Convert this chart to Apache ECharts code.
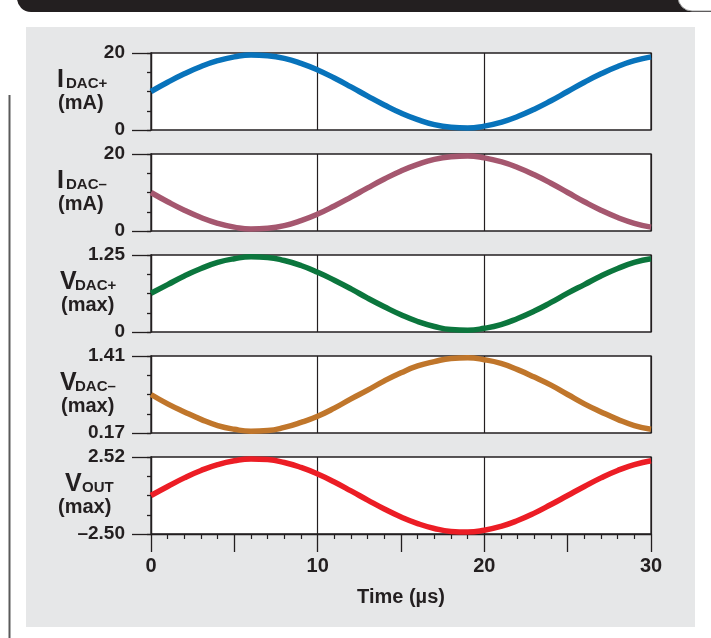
<!DOCTYPE html>
<html><head><meta charset="utf-8">
<script src="https://cdn.jsdelivr.net/npm/echarts@6/dist/echarts.min.js"></script>
<style>html,body{margin:0;padding:0;background:#fff}#c{width:711px;height:638px}</style>
</head><body><div id="c"></div>
<script>
// ---- data ----
const timeUs = [0,1,2,3,4,5,6,7,8,9,10,11,12,13,14,15,16,17,18,19,20,21,22,23,24,25,26,27,28,29,30];
const iDacPlus  = [10,12.4,14.6,16.5,18.0,19.0,19.5,19.3,18.6,17.3,15.6,13.5,11.2,8.8,6.5,4.4,2.7,1.4,0.7,0.5,1.0,2.0,3.5,5.4,7.6,10,12.4,14.6,16.5,18.0,19.0];
const iDacMinus = [10,7.6,5.4,3.5,2.0,1.0,0.5,0.7,1.4,2.7,4.4,6.5,8.8,11.2,13.5,15.6,17.3,18.6,19.3,19.5,19.0,18.0,16.5,14.6,12.4,10,7.6,5.4,3.5,2.0,1.0];
const vDacPlus  = [0.63,0.77,0.91,1.03,1.13,1.19,1.22,1.21,1.16,1.08,0.97,0.84,0.70,0.55,0.41,0.28,0.17,0.09,0.04,0.03,0.06,0.12,0.22,0.34,0.48,0.63,0.77,0.91,1.03,1.13,1.19];
const vDacMinus = [0.79,0.64,0.51,0.39,0.29,0.23,0.20,0.21,0.26,0.34,0.44,0.57,0.72,0.86,1.01,1.14,1.25,1.32,1.37,1.38,1.35,1.29,1.19,1.07,0.94,0.79,0.64,0.51,0.39,0.29,0.23];
const vOut      = [0.01,0.60,1.16,1.64,2.02,2.27,2.39,2.35,2.16,1.84,1.41,0.89,0.31,-0.29,-0.87,-1.39,-1.82,-2.14,-2.33,-2.37,-2.25,-2.00,-1.62,-1.14,-0.58,0.01,0.60,1.16,1.64,2.02,2.27];

const yMin  = [0, 0, 0, 0.17, -2.5];
const yMax  = [20, 20, 1.25, 1.41, 2.52];
const yStep = [5, 5, 0.3125, 0.31, 1.255];   // quarter ticks
const ySpan = [20, 20, 1.25, 1.24, 5.02];    // only min / max ticks
const yTickTop    = ['20', '20', '1.25', '1.41', '2.52'];
const yTickBottom = ['0', '0', '0', '0.17', '\u20132.50'];
const xMin = 0, xMax = 30;
const xLabelStep = 10, xMajorStep = 5;
const xAxisName = 'Time (\u00b5s)';
const panelMain = ['I', 'I', 'V', 'V', 'V'];
const panelSub  = ['DAC+', 'DAC\u2013', 'DAC+', 'DAC\u2013', 'OUT'];
const panelUnit = ['(mA)', '(mA)', '(max)', '(max)', '(max)'];
const seriesData = [iDacPlus, iDacMinus, vDacPlus, vDacMinus, vOut];
const colors = ['#0873bb', '#a5576f', '#0b763d', '#c0762b', '#ec1d25'];

// ---- layout ----
const FONT = '"Liberation Sans", Arial, Helvetica, sans-serif';
const INK = '#231f20';
const tops = [53, 154, 255, 356, 457];
const H = 77;
const mainX = [57, 57, 60, 60, 65];
const subX  = [66, 66, 75, 75, 82];
const unitX = [58, 58, 61, 61, 58];

const grids = [], xAxes = [], yAxes = [], series = [], graphics = [];

graphics.push({type:'rect', z:-100, shape:{x:26, y:27, width:669, height:600}, style:{fill:'#e6e7e8'}});
graphics.push({type:'rect', z:-90, shape:{x:17, y:-20, width:700, height:32, r:[0,0,0,14]}, style:{fill:INK}});
graphics.push({type:'rect', z:-80, shape:{x:678, y:-20, width:60, height:31, r:[0,0,0,14]}, style:{fill:'#fff', stroke:'#9a9a9a', lineWidth:1}});
graphics.push({type:'line', z:-80, shape:{x1:9.5, y1:95, x2:9.5, y2:640}, style:{stroke:'#5a5a5a', lineWidth:2}});

for (let i = 0; i < 5; i++) {
  const last = i === 4;
  grids.push({left:151, width:500, top:tops[i], height:H, show:true,
    backgroundColor:'#fff', borderColor:INK, borderWidth:1.3, containLabel:false});
  xAxes.push({type:'value', gridIndex:i, min:xMin, max:xMax, interval:xLabelStep, position:'bottom', offset:0,
    axisLine:{show:last, onZero:false, lineStyle:{color:INK, width:1.3}},
    axisTick:{show:false},
    axisLabel:{show:last, margin:22, color:INK, fontFamily:FONT, fontWeight:'bold', fontSize:20},
    splitLine:{show:true, lineStyle:{color:INK, width:1.2}},
    name: last ? xAxisName : '', nameLocation:'middle', nameGap:53,
    nameTextStyle:{color:INK, fontFamily:FONT, fontWeight:'bold', fontSize:20}});
  yAxes.push({type:'value', gridIndex:i, min:yMin[i], max:yMax[i], interval:yStep[i], position:'left', offset:0,
    axisLine:{show:true, onZero:false, lineStyle:{color:INK, width:1.3}},
    axisTick:{show:true, inside:false, length:4, lineStyle:{color:INK, width:1.3}},
    axisLabel:{show:false}, splitLine:{show:false}});
  series.push({type:'line', xAxisIndex:i, yAxisIndex:i, smooth:true, symbol:'none', clip:false,
    lineStyle:{color:colors[i], width:5.5}, itemStyle:{color:colors[i]},
    data: timeUs.map((t, j) => [t, seriesData[i][j]])});
  const t = tops[i];
  graphics.push({type:'text', z:100, x:mainX[i], y:t+27.5, style:{text:panelMain[i], fill:INK, font:'bold 25px '+FONT, align:'left', verticalAlign:'middle'}});
  graphics.push({type:'text', z:100, x:subX[i], y:t+30.5, style:{text:panelSub[i], fill:INK, font:'bold 15px '+FONT, align:'left', verticalAlign:'middle'}});
  graphics.push({type:'text', z:100, x:unitX[i], y:t+50, style:{text:panelUnit[i], fill:INK, font:'bold 20px '+FONT, align:'left', verticalAlign:'middle'}});
}
// label axes (min/max only, long ticks)
for (let i = 0; i < 5; i++) {
  const k = i;
  yAxes.push({type:'value', gridIndex:i, min:yMin[i], max:yMax[i], interval:ySpan[i], position:'left', offset:0,
    axisLine:{show:false, onZero:false},
    axisTick:{show:true, inside:false, length:19, lineStyle:{color:INK, width:1.3}},
    axisLabel:{show:true, margin:26, color:INK, fontFamily:FONT, fontWeight:'bold', fontSize:19,
      formatter: v => Math.abs(v - yMax[k]) < 1e-6 ? yTickTop[k] : (Math.abs(v - yMin[k]) < 1e-6 ? yTickBottom[k] : '')},
    splitLine:{show:false}});
}
// bottom ticks axis
xAxes.push({type:'value', gridIndex:4, min:xMin, max:xMax, interval:xMajorStep, position:'bottom', offset:0,
  axisLine:{show:false, onZero:false},
  axisTick:{show:true, inside:false, length:18, lineStyle:{color:INK, width:1.3}},
  minorTick:{show:true, splitNumber:5, length:5, lineStyle:{color:INK, width:1.2}},
  axisLabel:{show:false}, splitLine:{show:false}});

const chart = echarts.init(document.getElementById('c'), null, {renderer:'canvas'});
chart.setOption({animation:false, backgroundColor:'#fff', grid:grids, xAxis:xAxes, yAxis:yAxes, series:series, graphic:graphics});
</script></body></html>
